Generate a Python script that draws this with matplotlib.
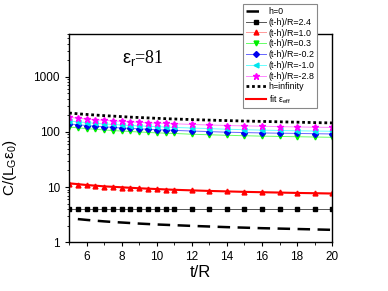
import matplotlib
matplotlib.use("Agg")
import matplotlib.pyplot as plt
from matplotlib.ticker import LogLocator, NullFormatter, FixedLocator

plt.rcParams['font.family'] = ['Liberation Sans', 'DejaVu Sans']
plt.rcParams['mathtext.fontset'] = 'custom'
plt.rcParams['mathtext.rm'] = 'Liberation Sans'
plt.rcParams['mathtext.it'] = 'Liberation Sans'

t = [5, 5.5, 6, 6.5, 7, 7.5, 8, 8.5, 9, 9.5, 10, 10.5, 11, 12, 13, 14, 15, 16, 17, 18, 19, 20]
t_h0 = [5.5, 6, 6.5, 7, 7.5, 8, 8.5, 9, 9.5, 10, 10.5, 11, 12, 13, 14, 15, 16, 17, 18, 19, 20]
h0 = [2.62, 2.53, 2.45, 2.38, 2.32, 2.27, 2.22, 2.17, 2.13, 2.09, 2.06, 2.03, 1.97, 1.92, 1.87, 1.83, 1.79, 1.76, 1.73, 1.70, 1.67]
r24 = [4.0] * 22
r10 = [11.4, 11.0, 10.7, 10.4, 10.2, 10.0, 9.8, 9.6, 9.45, 9.3, 9.15, 9.0, 8.9, 8.7, 8.5, 8.35, 8.2, 8.1, 8.0, 7.9, 7.8, 7.7]
r03 = [123, 119, 115, 112, 109, 106, 104, 102, 100, 98, 96.5, 95, 94, 91, 89, 87, 85.5, 84, 83, 82, 81, 80]
rm02 = [140, 135, 131, 127, 124, 121, 118, 116, 114, 112, 110, 108.5, 107, 104, 101.5, 99, 97.5, 96, 95, 94, 93, 92]
rm10 = [158, 153, 148, 144, 140, 137, 134, 131, 129, 127, 125, 123, 121, 118, 115, 112, 110, 108, 106.5, 105, 104, 103]
rm28 = [184, 178, 172, 167, 163, 159, 156, 153, 150, 147, 145, 143, 141, 137, 134, 131, 129, 127, 125, 123.5, 122, 121]
hinf = [221, 214, 208, 203, 198, 194, 190, 186, 183, 180, 177, 174.5, 172, 168, 164, 161, 158, 155.5, 153, 150.5, 148, 146]
fit = [11.7, 11.3, 10.9, 10.6, 10.3, 10.1, 9.9, 9.7, 9.5, 9.35, 9.2, 9.05, 8.92, 8.7, 8.5, 8.33, 8.18, 8.05, 7.93, 7.82, 7.72, 7.62]

fig = plt.figure(figsize=(3.88, 2.91), dpi=100)
ax = fig.add_axes([0.178, 0.168, 0.678, 0.715])

ms = 3.5
ax.plot(t_h0, h0, color='black', ls=(0, (5, 3)), lw=1.8, label='h=0')
ax.plot(t, r24, color='#555555', lw=0.7, marker='s', ms=3.2, mfc='black', mec='black', label='(t-h)/R=2.4')
ax.plot(t, r10, color='#ff9999', lw=0.7, marker='^', ms=ms, mfc='red', mec='red', label='(t-h)/R=1.0')
ax.plot(t, r03, color='#66ff66', lw=0.7, marker='v', ms=ms, mfc='#00ee00', mec='#00ee00', label='(t-h)/R=0.3')
ax.plot(t, rm02, color='#6666ff', lw=0.7, marker='D', ms=3, mfc='#0000ee', mec='#0000ee', label='(t-h)/R=-0.2')
ax.plot(t, rm10, color='#66ffff', lw=0.7, marker='<', ms=ms, mfc='#00e5ee', mec='#00e5ee', label='(t-h)/R=-1.0')
ax.plot(t, rm28, color='#ff88ff', lw=0.7, marker='*', ms=4.5, mfc='#ff00ff', mec='#ff00ff', label='(t-h)/R=-2.8')
ax.plot(t, hinf, color='black', ls=(0, (1, 1)), lw=2.0, label='h=infinity')
ax.plot(t, fit, color='red', lw=1.5, label=r'fit $\varepsilon_{eff}$')

ax.set_yscale('log')
ax.set_xlim(5, 20)
ax.set_ylim(1, 6000)
ax.set_xticks([6, 8, 10, 12, 14, 16, 18, 20])
ax.xaxis.set_minor_locator(FixedLocator([5, 7, 9, 11, 13, 15, 17, 19]))
ax.set_yticks([1, 10, 100, 1000])
ax.set_yticklabels(['1', '10', '100', '1000'])
ax.yaxis.set_minor_locator(LogLocator(base=10, subs=range(2, 10)))
ax.yaxis.set_minor_formatter(NullFormatter())
ax.tick_params(axis='both', which='major', labelsize=8.5, length=3, width=0.8, direction='out', top=False, right=False)
ax.tick_params(axis='both', which='minor', length=1.8, width=0.6, direction='out', top=False, right=False)
for s in ax.spines.values():
    s.set_linewidth(1.0)

ax.set_xlabel('t/R', fontsize=12, labelpad=1)
ax.set_ylabel(r'C/(L$_G$$\varepsilon_0$)', fontsize=11, labelpad=2)
ax.yaxis.set_label_coords(-0.19, 0.36)

ax.text(0.2, 0.86, r'$\varepsilon_r$=81', transform=ax.transAxes, fontsize=13,
        family='Liberation Serif')

leg = fig.legend(loc='upper left', bbox_to_anchor=(0.626, 0.985), fontsize=6.4,
                 frameon=True, fancybox=False, edgecolor='#888888', framealpha=1,
                 handlelength=2.3, handletextpad=0.3, borderpad=0.3, labelspacing=0.2,
                 borderaxespad=0)
leg.get_frame().set_linewidth(0.8)

fig.savefig('out.png', dpi=100)
